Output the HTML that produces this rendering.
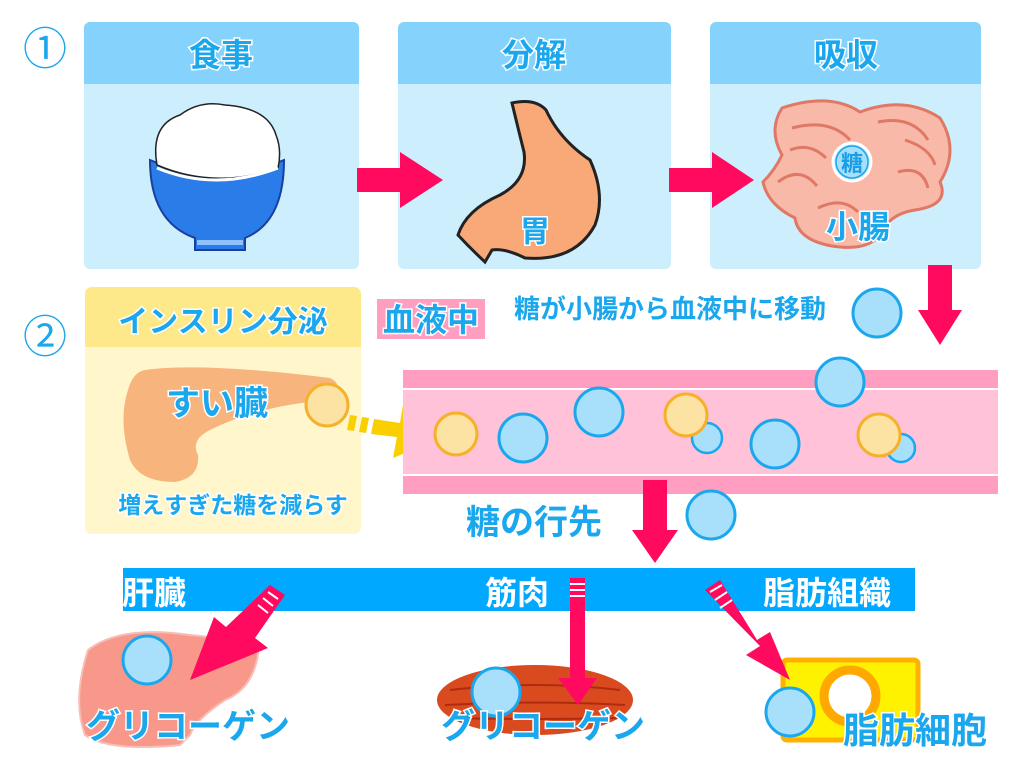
<!DOCTYPE html>
<html><head><meta charset="utf-8"><style>
html,body{margin:0;padding:0;background:#fff;}
svg{display:block;font-family:"Liberation Sans","Noto Sans CJK JP",sans-serif;}
.t{fill:#1aa7ee;font-weight:bold;paint-order:stroke;stroke:#fff;stroke-width:3px;}
.w{fill:#fff;font-weight:bold;}
</style></head><body>
<svg width="1024" height="768" viewBox="0 0 1024 768" xmlns="http://www.w3.org/2000/svg">
<defs>
<g id="bc"><circle r="24" fill="#a8e0fb" stroke="#1aa7ee" stroke-width="3"/></g>
<g id="yc"><circle r="21" fill="#fde3a3" stroke="#f7b02a" stroke-width="3"/></g>
</defs>
<text x="45" y="64" font-size="44" fill="#1aa7ee" text-anchor="middle">①</text>
<text x="45" y="352" font-size="44" fill="#1aa7ee" text-anchor="middle">②</text>

<rect x="84" y="22" width="275" height="247" rx="6" fill="#cdeefd"/>
<rect x="84" y="22" width="275" height="62" rx="6" fill="#85d3fd"/>
<rect x="84" y="78" width="275" height="6" fill="#85d3fd"/>
<text class="t" x="221" y="66" font-size="32" text-anchor="middle">食事</text>
<rect x="398" y="22" width="273" height="247" rx="6" fill="#cdeefd"/>
<rect x="398" y="22" width="273" height="62" rx="6" fill="#85d3fd"/>
<rect x="398" y="78" width="273" height="6" fill="#85d3fd"/>
<text class="t" x="534" y="66" font-size="32" text-anchor="middle">分解</text>
<rect x="710" y="22" width="271" height="247" rx="6" fill="#cdeefd"/>
<rect x="710" y="22" width="271" height="62" rx="6" fill="#85d3fd"/>
<rect x="710" y="78" width="271" height="6" fill="#85d3fd"/>
<text class="t" x="846" y="66" font-size="32" text-anchor="middle">吸収</text>

<!-- rice bowl -->
<path d="M150 160 Q215 188 284 160 Q284 222 245 238 L245 250 L195 250 L195 238 Q150 222 150 160 Z" fill="#2a7ce8" stroke="#1a3f9e" stroke-width="2"/>
<path d="M157 165 Q150 125 180 115 Q200 100 225 105 Q268 108 276 135 Q282 150 278 168 Q215 190 157 165 Z" fill="#fff" stroke="#222" stroke-width="1.5"/>
<path d="M157 168 Q215 192 278 168" fill="none" stroke="#fff" stroke-width="3"/>
<rect x="197" y="240" width="46" height="5" fill="#8fc0ff"/>
<!-- stomach -->
<path d="M512 103 Q535 98 546 110 Q560 140 590 160 Q606 195 595 225 Q575 262 525 258 Q505 248 492 250 L485 262 Q470 248 458 235 Q466 210 500 195 Q528 180 524 152 Q518 128 512 103 Z" fill="#f9a877" stroke="#222" stroke-width="3"/>
<text class="t" x="535" y="242" font-size="30" text-anchor="middle">胃</text>
<!-- intestine -->
<path d="M782 108 Q830 92 860 112 Q905 95 940 118 Q960 150 940 182 Q950 205 915 210 Q890 214 882 232 Q870 252 832 246 Q798 240 795 218 Q768 205 763 182 Q775 170 782 155 Q768 130 782 108 Z" fill="#f9b9a8" stroke="#e07866" stroke-width="3"/>
<path d="M792 128 Q830 118 850 140 M878 122 Q912 115 928 140 M778 182 Q800 165 817 186 M898 172 Q922 165 928 188 M818 208 Q842 196 858 212 M790 150 Q810 142 826 158 M905 140 Q930 148 935 165" stroke="#e07866" stroke-width="3" fill="none"/>
<circle cx="852" cy="162" r="19" fill="#a8e0fb" stroke="#fff" stroke-width="3"/>
<circle cx="852" cy="162" r="16" fill="none" stroke="#1aa7ee" stroke-width="1.5"/>
<text x="852" y="171" font-size="22" fill="#1a9fe6" font-weight="bold" text-anchor="middle">糖</text>
<text class="t" x="858" y="238" font-size="32" text-anchor="middle">小腸</text>

<path d="M357 168 L400 168 L400 152 L443 180 L400 208 L400 192 L357 192 Z" fill="#ff0a5e"/>
<path d="M669 168 L712 168 L712 152 L754 180 L712 208 L712 192 L669 192 Z" fill="#ff0a5e"/>
<path d="M928 265 L952 265 L952 310 L962 310 L940 345 L918 310 L928 310 Z" fill="#ff0a5e"/>

<!-- insulin box -->
<rect x="85" y="287" width="276" height="247" rx="7" fill="#fff6cc"/>
<rect x="85" y="287" width="276" height="60" rx="7" fill="#fde88a"/>
<rect x="85" y="340" width="276" height="7" fill="#fde88a"/>
<text class="t" x="223" y="332" font-size="30" text-anchor="middle">インスリン分泌</text>
<path d="M145 370 Q200 362 330 378 Q345 385 330 400 Q260 405 210 430 Q190 440 198 455 Q200 478 175 482 Q140 482 130 460 Q118 420 128 390 Q133 372 145 370 Z" fill="#f7b47d"/>
<text class="t" x="217" y="415" font-size="34" text-anchor="middle">すい臓</text>
<text class="t" x="233" y="513" font-size="23" text-anchor="middle">増えすぎた糖を減らす</text>
<use href="#yc" x="327" y="405"/>
<path d="M350 415 L357 416 L354 431 L347 430 Z" fill="#f9cf00"/>
<path d="M362 417 L369 418 L366 433 L359 432 Z" fill="#f9cf00"/>
<path d="M374 419 L400 423 L403 405 L437 440 L393 458 L397 437 L371 434 Z" fill="#f9cf00"/>

<rect x="377" y="299" width="108" height="40" fill="#ff9ec0"/>
<text class="t" x="431" y="331" font-size="32" text-anchor="middle">血液中</text>
<text class="t" x="670" y="318" font-size="26" text-anchor="middle">糖が小腸から血液中に移動</text>
<use href="#bc" x="877" y="313"/>

<rect x="403" y="370" width="595" height="18" fill="#ff9ec0"/>
<rect x="403" y="390" width="595" height="84" fill="#ffc2d8"/>
<rect x="403" y="476" width="595" height="18" fill="#ff9ec0"/>
<use href="#yc" x="456" y="434"/>
<use href="#bc" x="523" y="438"/>
<use href="#bc" x="599" y="412"/>
<circle cx="707" cy="438" r="15" fill="#a8e0fb" stroke="#1aa7ee" stroke-width="2.5"/>
<use href="#yc" x="686" y="415"/>
<use href="#bc" x="775" y="444"/>
<use href="#bc" x="840" y="382"/>
<circle cx="901" cy="448" r="14" fill="#a8e0fb" stroke="#1aa7ee" stroke-width="2.5"/>
<use href="#yc" x="879" y="435"/>

<text class="t" x="534" y="534" font-size="34" text-anchor="middle">糖の行先</text>
<path d="M643 480 L667 480 L667 530 L678 530 L655 563 L632 530 L643 530 Z" fill="#ff0a5e"/>
<use href="#bc" x="711" y="515"/>

<rect x="123" y="568" width="792" height="43" fill="#00a8ff"/>
<text class="w" x="122" y="604" font-size="32">肝臓</text>
<text class="w" x="485" y="604" font-size="32">筋肉</text>
<text class="w" x="763" y="604" font-size="32">脂肪組織</text>

<path d="M88 650 Q120 625 190 635 L240 640 Q262 640 257 660 Q250 690 225 700 Q195 720 190 735 L180 745 Q110 752 85 735 Q72 700 88 650 Z" fill="#f7988a" stroke="#f9bdb4" stroke-width="2"/>
<circle cx="147" cy="660" r="24" fill="#a8e0fb" stroke="#1aa7ee" stroke-width="3"/>
<text class="t" x="188" y="738" font-size="34" text-anchor="middle">グリコーゲン</text>
<path d="M270 585 L285 595 L255 638 L268 648 L190 680 L214 617 L226 627 Z" fill="#ff0a5e"/>
<path d="M268 592 L278 599 M263 598 L273 606 M258 605 L268 613" stroke="#fff" stroke-width="2"/>
<ellipse cx="535" cy="700" rx="98" ry="35" fill="#d94b1f"/>
<path d="M450 690 Q535 680 620 690 M445 705 Q535 700 625 705 M450 718 Q535 720 620 718" stroke="#b02a10" stroke-width="2" fill="none"/>
<circle cx="496" cy="692" r="24" fill="#a8e0fb" stroke="#1aa7ee" stroke-width="3"/>
<rect x="570" y="578" width="15" height="100" fill="#ff0a5e"/>
<path d="M570 584 H585 M570 590 H585 M570 596 H585" stroke="#fff" stroke-width="2"/>
<path d="M558 678 L597 678 L578 705 Z" fill="#ff0a5e"/>
<text class="t" x="543" y="738" font-size="34" text-anchor="middle">グリコーゲン</text>
<rect x="783" y="660" width="135" height="80" rx="4" fill="#fff200" stroke="#ffb000" stroke-width="5"/>
<circle cx="850" cy="696" r="26" fill="#fff" stroke="#ffa800" stroke-width="9"/>
<path d="M705 590 L720 580 L757 640 L770 632 L790 680 L746 655 L760 646 Z" fill="#ff0a5e"/>
<path d="M710 592 L722 585 M715 600 L727 592 M720 608 L732 600" stroke="#fff" stroke-width="2"/>
<circle cx="790" cy="712" r="24" fill="#a8e0fb" stroke="#1aa7ee" stroke-width="3"/>
<text class="t" x="915" y="743" font-size="36" text-anchor="middle">脂肪細胞</text>
</svg>
</body></html>
